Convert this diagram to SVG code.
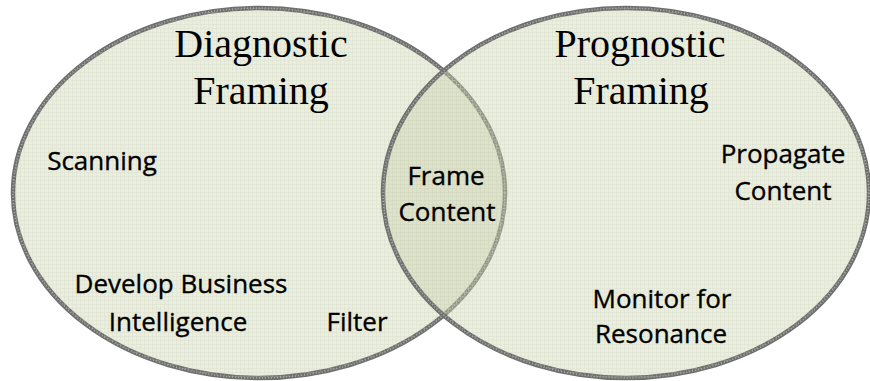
<svg xmlns="http://www.w3.org/2000/svg" width="870" height="381" viewBox="0 0 870 381">
  <defs>
    <pattern id="grid" width="4" height="4" patternUnits="userSpaceOnUse">
      <path d="M0 0.5H4M0.5 0V4" stroke="#c9cfb5" stroke-width="0.6" fill="none"/>
    </pattern>
  </defs>
  <style>
    .ring { stroke: #6f6f6f; stroke-width: 4.5; }
    .tex { fill: none; stroke: #b0b0b0; stroke-width: 1.5; stroke-dasharray: 1 2; }
    .title { font-family: "Liberation Serif", "Times New Roman", serif; font-size: 40px; fill: #000; text-anchor: middle; }
    .lbl { font-family: "Open Sans", "Noto Sans", sans-serif; font-size: 26px; fill: #000; stroke: #000; stroke-width: 0.35; text-anchor: middle; }
  </style>
  <rect width="870" height="381" fill="#ffffff"/>

  <g id="diagnostic-framing">
    <ellipse cx="259" cy="193" rx="246" ry="185" fill="#eaeddf" class="ring"/>
    <ellipse cx="259" cy="193" rx="246" ry="185" fill="url(#grid)" opacity="0.35"/>
    <ellipse cx="259" cy="193" rx="246" ry="185" class="tex"/>
  </g>

  <g id="prognostic-framing">
    <ellipse cx="626" cy="193" rx="243" ry="185" fill="#cbd2af" fill-opacity="0.4" class="ring"/>
    <ellipse cx="626" cy="193" rx="243" ry="185" fill="url(#grid)" opacity="0.35"/>
    <ellipse cx="626" cy="193" rx="243" ry="185" class="tex"/>
  </g>

  <g id="connectors"></g>

  <g id="diagnostic-title">
    <text class="title" x="261" y="57">Diagnostic</text>
    <text class="title" x="261" y="104">Framing</text>
  </g>
  <g id="prognostic-title">
    <text class="title" x="640" y="57">Prognostic</text>
    <text class="title" x="641" y="104">Framing</text>
  </g>

  <g id="scanning">
    <text class="lbl" x="102" y="170">Scanning</text>
  </g>
  <g id="develop-business-intelligence">
    <text class="lbl" x="181" y="293">Develop Business</text>
    <text class="lbl" x="178" y="331">Intelligence</text>
  </g>
  <g id="filter">
    <text class="lbl" x="357" y="331">Filter</text>
  </g>
  <g id="frame-content">
    <text class="lbl" x="446" y="185">Frame</text>
    <text class="lbl" x="447" y="221">Content</text>
  </g>
  <g id="propagate-content">
    <text class="lbl" x="783" y="163">Propagate</text>
    <text class="lbl" x="783" y="200">Content</text>
  </g>
  <g id="monitor-for-resonance">
    <text class="lbl" x="662" y="308">Monitor for</text>
    <text class="lbl" x="661" y="343">Resonance</text>
  </g>
</svg>
